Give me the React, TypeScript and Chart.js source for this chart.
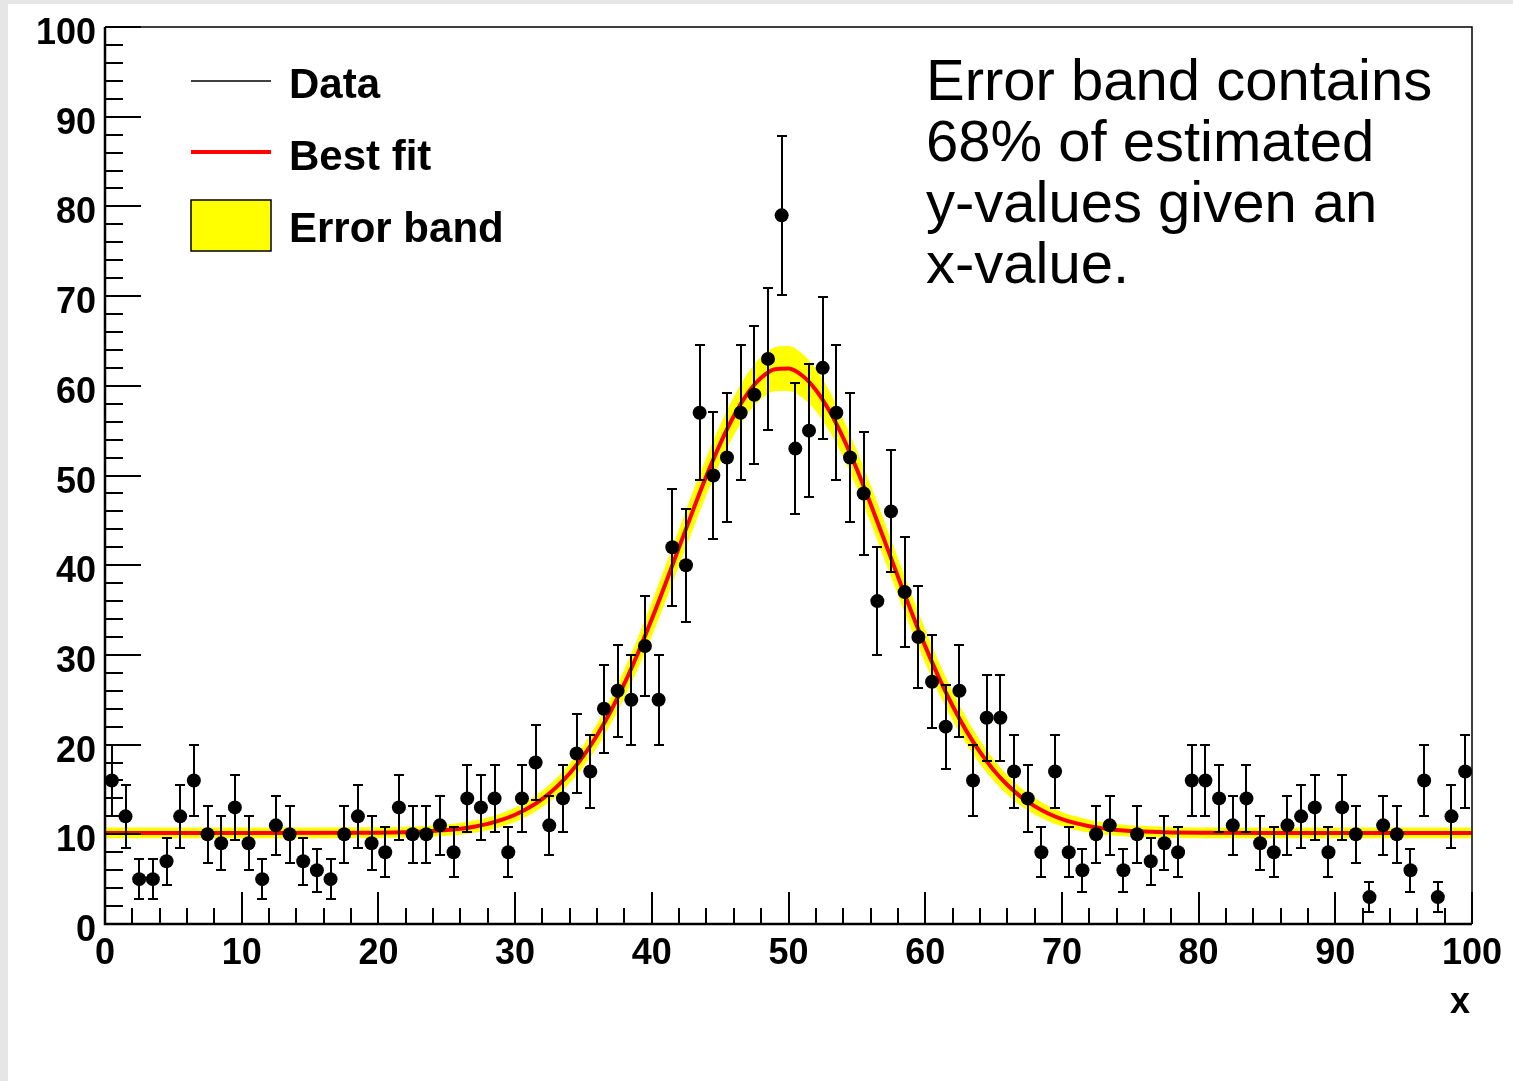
import React, { useEffect, useRef } from "react";
import { Chart, registerables } from "chart.js";

Chart.register(...registerables);

const W = 1513;
const H = 1081;

// Histogram binning
const binLow = 0;
const binHigh = 100;

// Bin contents (100 bins, 0..100)
const counts = [
  16, 12, 5, 5, 7, 12, 16, 10, 9, 13,
  9, 5, 11, 10, 7, 6, 5, 10, 12, 9,
  8, 13, 10, 10, 11, 8, 14, 13, 14, 8,
  14, 18, 11, 14, 19, 17, 24, 26, 25, 31,
  25, 42, 40, 57, 50, 52, 57, 59, 63, 79,
  53, 55, 62, 57, 52, 48, 36, 46, 37, 32,
  27, 22, 26, 16, 23, 23, 17, 14, 8, 17,
  8, 6, 10, 11, 6, 10, 7, 9, 8, 16,
  16, 14, 11, 14, 9, 8, 11, 12, 13, 8,
  13, 10, 3, 11, 10, 6, 16, 3, 12, 17,
];

// Vertical error bar half-lengths
const countErrors = [
  4.0, 3.5, 2.2, 2.2, 2.6, 3.5, 4.0, 3.2, 3.0, 3.6,
  3.0, 2.2, 3.3, 3.2, 2.6, 2.4, 2.2, 3.2, 3.5, 3.0,
  2.8, 3.6, 3.2, 3.2, 3.3, 2.8, 3.7, 3.6, 3.7, 2.8,
  3.7, 4.2, 3.3, 3.7, 4.4, 4.1, 4.9, 5.1, 5.0, 5.6,
  5.0, 6.5, 6.3, 7.5, 7.1, 7.2, 7.5, 7.7, 7.9, 8.9,
  7.3, 7.4, 7.9, 7.5, 7.2, 6.9, 6.0, 6.8, 6.1, 5.7,
  5.2, 4.7, 5.1, 4.0, 4.8, 4.8, 4.1, 3.7, 2.8, 4.1,
  2.8, 2.4, 3.2, 3.3, 2.4, 3.2, 2.6, 3.0, 2.8, 4.0,
  4.0, 3.7, 3.3, 3.7, 3.0, 2.8, 3.3, 3.5, 3.6, 2.8,
  3.6, 3.2, 1.7, 3.3, 3.2, 2.4, 4.0, 1.7, 3.5, 4.1,
];

// Best-fit curve
const fitX = [
  0, 10, 20, 22, 24, 25, 26, 27, 28, 29, 30, 31, 32, 33, 34, 35, 36, 37, 38, 39,
  40, 41, 42, 43, 44, 45, 46, 47, 48, 49, 50, 51, 52, 53, 54, 55, 56, 57, 58, 59,
  60, 61, 62, 63, 64, 65, 66, 67, 68, 69, 70, 71, 72, 73, 74, 75, 76, 78, 80, 90, 100,
];
const fitY = [
  10.15, 10.15, 10.18, 10.23, 10.36, 10.47, 10.62, 10.85, 11.16, 11.6, 12.18, 12.95, 13.96, 15.23, 16.81, 18.74, 21.04, 23.74, 26.82, 30.25,
  33.99, 37.94, 42.01, 46.06, 49.96, 53.53, 56.63, 59.13, 60.89, 61.84, 61.93, 61.15, 59.54, 57.18, 54.19, 50.7, 46.86, 42.83, 38.75, 34.76,
  30.98, 27.48, 24.33, 21.56, 19.18, 17.17, 15.52, 14.18, 13.14, 12.32, 11.7, 11.24, 10.9, 10.66, 10.49, 10.37, 10.3, 10.21, 10.17, 10.15, 10.15,
];
// Half-width of the 68% error band at each fitX
const bandHalfWidth = [
  0.6, 0.6, 0.6, 0.6, 0.62, 0.63, 0.66, 0.68, 0.72, 0.76, 0.8, 0.86, 0.93, 1.0, 1.1, 1.2, 1.32, 1.45, 1.6, 1.75,
  1.9, 2.0, 2.05, 2.1, 2.1, 2.1, 2.15, 2.25, 2.35, 2.45, 2.5, 2.45, 2.35, 2.25, 2.15, 2.1, 2.1, 2.1, 2.05, 2.0,
  1.9, 1.75, 1.6, 1.45, 1.32, 1.2, 1.1, 1.0, 0.93, 0.86, 0.8, 0.76, 0.72, 0.68, 0.66, 0.63, 0.62, 0.6, 0.6, 0.6, 0.6,
];

const xMajorTicks = [0, 10, 20, 30, 40, 50, 60, 70, 80, 90, 100];
const yMajorTicks = [0, 10, 20, 30, 40, 50, 60, 70, 80, 90, 100];
const minorStep = 2;

const xTitle = "x";
const legendLabels = ["Data", "Best fit", "Error band"];
const noteLines = ["Error band contains", "68% of estimated", "y-values given an", "x-value."];

const BOLD = "bold 36px 'Liberation Sans', Arial, Helvetica, sans-serif";
const LEGEND_FONT = "bold 42px 'Liberation Sans', Arial, Helvetica, sans-serif";
const NOTE_FONT = "58px 'Liberation Sans', Arial, Helvetica, sans-serif";

const rootStyle = {
  id: "rootStyle",
  beforeDraw(chart: any) {
    const ctx = chart.ctx;
    ctx.save();
    ctx.fillStyle = "#ffffff";
    ctx.fillRect(0, 0, W, H);
    ctx.fillStyle = "#e6e6e6";
    ctx.fillRect(0, 0, W, 4);
    ctx.fillRect(0, 0, 8, H);
    ctx.restore();
  },
  beforeDatasetDraw(chart: any, args: any) {
    if (args.index !== 0) return;
    const ctx = chart.ctx;
    const ys = chart.scales.y;
    const meta = chart.getDatasetMeta(0);
    ctx.save();
    ctx.strokeStyle = "#000";
    ctx.lineWidth = 2;
    meta.data.forEach((pt: any, i: number) => {
      const px = Math.round(pt.x);
      const top = Math.round(ys.getPixelForValue(counts[i] + countErrors[i]));
      const bot = Math.round(ys.getPixelForValue(Math.max(0, counts[i] - countErrors[i])));
      ctx.beginPath();
      ctx.moveTo(px, top);
      ctx.lineTo(px, bot);
      ctx.moveTo(px - 5, top);
      ctx.lineTo(px + 5, top);
      ctx.moveTo(px - 5, bot);
      ctx.lineTo(px + 5, bot);
      ctx.stroke();
    });
    ctx.restore();
  },
  afterDraw(chart: any) {
    const ctx = chart.ctx;
    const { left, right, top, bottom } = chart.chartArea;
    const xs = chart.scales.x;
    const ys = chart.scales.y;
    ctx.save();
    ctx.strokeStyle = "#000";
    // frame
    ctx.lineWidth = 1.5;
    ctx.beginPath();
    ctx.moveTo(left, top);
    ctx.lineTo(right, top);
    ctx.lineTo(right, bottom);
    ctx.stroke();
    ctx.lineWidth = 2.5;
    ctx.beginPath();
    ctx.moveTo(left, top);
    ctx.lineTo(left, bottom);
    ctx.lineTo(right, bottom);
    ctx.stroke();

    // ticks
    ctx.lineWidth = 2;
    ctx.beginPath();
    for (let v = xs.min; v <= xs.max + 1e-9; v += minorStep) {
      const px = Math.round(xs.getPixelForValue(v));
      const len = xMajorTicks.includes(v) ? 32 : 16;
      ctx.moveTo(px, bottom);
      ctx.lineTo(px, bottom - len);
    }
    for (let v = ys.min; v <= ys.max + 1e-9; v += minorStep) {
      const py = Math.round(ys.getPixelForValue(v));
      const len = yMajorTicks.includes(v) ? 36 : 18;
      ctx.moveTo(left, py);
      ctx.lineTo(left + len, py);
    }
    ctx.stroke();

    // tick labels
    ctx.fillStyle = "#000";
    ctx.font = BOLD;
    ctx.textBaseline = "alphabetic";
    ctx.textAlign = "right";
    yMajorTicks.forEach((v) => {
      ctx.fillText(String(v), left - 9, ys.getPixelForValue(v) + 17);
    });
    ctx.textAlign = "center";
    xMajorTicks.forEach((v) => {
      ctx.fillText(String(v), xs.getPixelForValue(v), bottom + 40);
    });
    ctx.textAlign = "right";
    ctx.fillText(xTitle, right - 2, bottom + 89);

    // legend
    const lx0 = 191;
    const lx1 = 271;
    const tx = 289;
    const base0 = 98;
    const rowGap = 72;
    ctx.font = LEGEND_FONT;
    ctx.textAlign = "left";
    legendLabels.forEach((lab, i) => {
      const b = base0 + i * rowGap;
      if (i === 0) {
        ctx.strokeStyle = "#000";
        ctx.lineWidth = 1.5;
        ctx.beginPath();
        ctx.moveTo(lx0, b - 17);
        ctx.lineTo(lx1, b - 17);
        ctx.stroke();
      } else if (i === 1) {
        ctx.strokeStyle = "#ff0000";
        ctx.lineWidth = 4;
        ctx.beginPath();
        ctx.moveTo(lx0, b - 18);
        ctx.lineTo(lx1, b - 18);
        ctx.stroke();
      } else {
        ctx.fillStyle = "#ffff00";
        ctx.fillRect(lx0, b - 42, lx1 - lx0, 51);
        ctx.strokeStyle = "#000";
        ctx.lineWidth = 1.5;
        ctx.strokeRect(lx0, b - 42, lx1 - lx0, 51);
      }
      ctx.fillStyle = "#000";
      ctx.fillText(lab, tx, b);
    });

    // note
    ctx.font = NOTE_FONT;
    ctx.fillStyle = "#000";
    noteLines.forEach((line, i) => {
      ctx.fillText(line, 926, 100 + i * 61);
    });
    ctx.restore();
  },
};

export default function App() {
  const ref = useRef<HTMLCanvasElement | null>(null);

  useEffect(() => {
    if (!ref.current) return;
    document.body.style.margin = "0";
    const nBins = counts.length;
    const width = (binHigh - binLow) / nBins;
    const points = counts.map((c, i) => ({ x: binLow + (i + 0.5) * width, y: c }));
    const fitPts = fitX.map((x, i) => ({ x, y: fitY[i] }));
    const bandHi = fitX.map((x, i) => ({ x, y: fitY[i] + bandHalfWidth[i] }));
    const bandLo = fitX.map((x, i) => ({ x, y: fitY[i] - bandHalfWidth[i] }));

    const chart = new Chart(ref.current, {
      type: "scatter",
      data: {
        datasets: [
          {
            label: "Data",
            data: points,
            pointRadius: 7,
            pointHoverRadius: 7,
            pointStyle: "circle",
            backgroundColor: "#000",
            borderColor: "#000",
            borderWidth: 0,
            showLine: false,
            order: 0,
          } as any,
          {
            type: "line",
            label: "Best fit",
            data: fitPts,
            borderColor: "#ff0000",
            borderWidth: 4,
            pointRadius: 0,
            cubicInterpolationMode: "monotone",
            fill: false,
            order: 1,
          } as any,
          {
            type: "line",
            label: "Error band",
            data: bandHi,
            borderWidth: 0,
            borderColor: "rgba(0,0,0,0)",
            backgroundColor: "#ffff00",
            pointRadius: 0,
            cubicInterpolationMode: "monotone",
            fill: "+1",
            order: 2,
          } as any,
          {
            type: "line",
            label: "band low",
            data: bandLo,
            borderWidth: 0,
            borderColor: "rgba(0,0,0,0)",
            pointRadius: 0,
            cubicInterpolationMode: "monotone",
            fill: false,
            order: 3,
          } as any,
        ],
      },
      options: {
        animation: false,
        responsive: false,
        devicePixelRatio: 1,
        events: [],
        layout: { padding: { left: 105, top: 27, right: 41, bottom: 157 } },
        plugins: {
          legend: { display: false },
          tooltip: { enabled: false },
        },
        scales: {
          x: { type: "linear", min: binLow, max: binHigh, display: false },
          y: { type: "linear", min: 0, max: 100, display: false },
        },
      },
      plugins: [rootStyle],
    });
    return () => chart.destroy();
  }, []);

  return (
    <div style={{ position: "absolute", left: 0, top: 0, width: W, height: H }}>
      <canvas ref={ref} width={W} height={H} style={{ display: "block", width: W, height: H }} />
    </div>
  );
}
